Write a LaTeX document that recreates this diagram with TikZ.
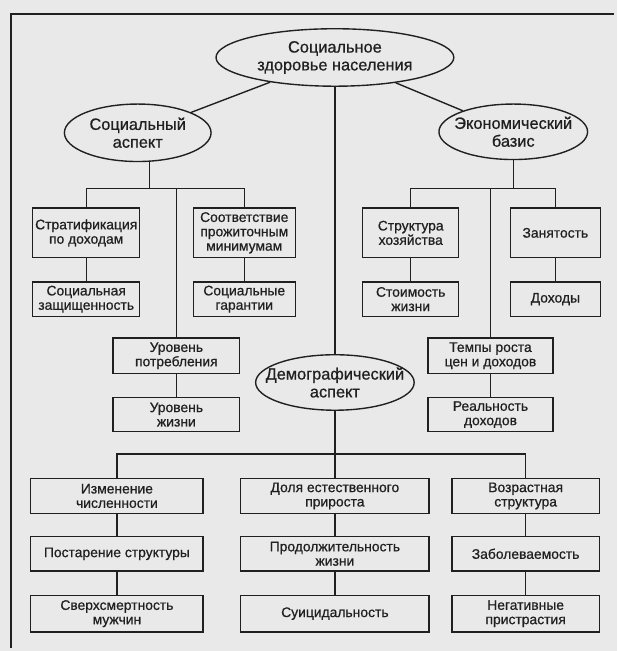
\documentclass[tikz,border=0pt]{standalone}
\usepackage{fontspec}
\setmainfont{Liberation Sans}[FakeBold=0.7]
\usetikzlibrary{shapes.geometric, positioning}
\definecolor{scan}{RGB}{233,233,233}
\definecolor{ink}{RGB}{32,32,32}
\newcommand{\ellline}[1]{\makebox[0pt]{#1}}

\begin{document}
\begin{tikzpicture}[
    x=1pt, y=1pt,
    color=ink,
    line width=1.4pt,
    node distance=23pt,
    aspect/.style={ellipse,draw,inner sep=0pt,align=center,
        font=\fontsize{16.5}{18}\selectfont},
    factor/.style={rectangle,draw,inner sep=0pt,align=center,
        font=\fontsize{14}{14.5}\selectfont}]

        \fill[scan] (-3,3) rectangle (620,-654);
        \useasboundingbox (0,0) rectangle (617,-651);
        \draw (8,-651) -- (8,-11) -- (617,-11);

        % aspects
        \node[aspect, minimum width=240, minimum height=58] (z_0) at (335,-55)
              {\ellline{Социальное}\\\ellline{здоровье населения}};
        \node[aspect, minimum width=148, minimum height=58] (a_s) at (136,-131)
              {\ellline{Социальный}\\\ellline{аспект}};
        \node[aspect, minimum width=150, minimum height=56] (a_e) at (515,-130)
              {\ellline{Экономический}\\\ellline{базис}};
        \node[aspect, minimum width=160, minimum height=56] (a_d) at (335,-383)
              {\ellline{Демографический}\\\ellline{аспект}};

        % upper rows
        \node[factor, minimum width=108, minimum height=50] (f_1) at (84,-232)
              {Стратификация\\по доходам};
        \node[factor, minimum width=103, minimum height=50] (f_2) at (243.5,-232)
              {Соответствие\\прожиточным\\минимумам};
        \node[factor, minimum width=97, minimum height=50] (f_3) at (411.5,-232)
              {Структура\\хозяйства};
        \node[factor, minimum width=91, minimum height=50] (f_4) at (557.5,-232)
              {Занятость};

        \node[factor, minimum width=108, minimum height=35] (f_5) [below=of f_1]
              {Социальная\\защищенность};
        \node[factor, minimum width=103, minimum height=35] (f_6) [below=of f_2]
              {Социальные\\гарантии};
        \node[factor, minimum width=97, minimum height=35] (f_7) [below=of f_3]
              {Стоимость\\жизни};
        \node[factor, minimum width=91, minimum height=35] (f_8) [below=of f_4]
              {Доходы};

        % middle rows
        \node[factor, minimum width=128, minimum height=36] (f_9) at (175,-356)
              {Уровень\\потребления};
        \node[factor, minimum width=128, minimum height=34] (f_10) [below=of f_9]
              {Уровень\\жизни};
        \node[factor, minimum width=126, minimum height=36] (f_11) at (492,-356)
              {Темпы роста\\цен и доходов};
        \node[factor, minimum width=126, minimum height=34] (f_12) [below=of f_11]
              {Реальность\\доходов};

        % lower rows
        \node[factor, minimum width=174, minimum height=35] (f_13) at (115,-497.5)
              {Изменение\\численности};
        \node[factor, minimum width=190, minimum height=35] (f_14) at (335,-497.5)
              {Доля естественного\\прироста};
        \node[factor, minimum width=149, minimum height=35] (f_15) at (527.5,-497.5)
              {Возрастная\\структура};

        \node[factor, minimum width=174, minimum height=35] (f_16) [below=22 of f_13]
              {Постарение структуры};
        \node[factor, minimum width=190, minimum height=35] (f_17) [below=22 of f_14]
              {Продолжительность\\жизни};
        \node[factor, minimum width=149, minimum height=35] (f_18) [below=22 of f_15]
              {Заболеваемость};

        \node[factor, minimum width=174, minimum height=37] (f_19) [below=of f_16]
              {Сверхсмертность\\мужчин};
        \node[factor, minimum width=190, minimum height=37] (f_20) [below=of f_17]
              {Суицидальность};
        \node[factor, minimum width=149, minimum height=37] (f_21) [below=of f_18]
              {Негативные\\пристрастия};

        \coordinate (k_s) at (148,-187);
        \coordinate (k_e) at (515,-187);
        \coordinate (k_d) at (335,-455);

        \draw (z_0) -- (a_s);
        \draw (z_0) -- (a_e);
        \draw (z_0) -- (a_d);

        \draw (a_s.south -| k_s) -- (k_s);
        \draw (f_1.north) |- (k_s) -| (f_2.north);
        \draw (f_9.north) -- (f_9.north |- k_s);

        \draw (a_e) -- (k_e);
        \draw (f_3.north) |- (k_e) -| (f_4.north);
        \draw (f_11.north) -- (f_11.north |- k_e);

        \draw (a_d) -- (f_14);
        \draw (f_13.north) |- (k_d) -| (f_15.north);

        \draw (f_1) -- (f_5);
        \draw (f_2) -- (f_6);
        \draw (f_3) -- (f_7);
        \draw (f_4) -- (f_8);
        \draw (f_9) -- (f_10);
        \draw (f_11) -- (f_12);
        \draw (f_13) -- (f_16);
        \draw (f_16) -- (f_19);
        \draw (f_14) -- (f_17);
        \draw (f_17) -- (f_20);
        \draw (f_15) -- (f_18);
        \draw (f_18) -- (f_21);

    \end{tikzpicture}
\end{document}
